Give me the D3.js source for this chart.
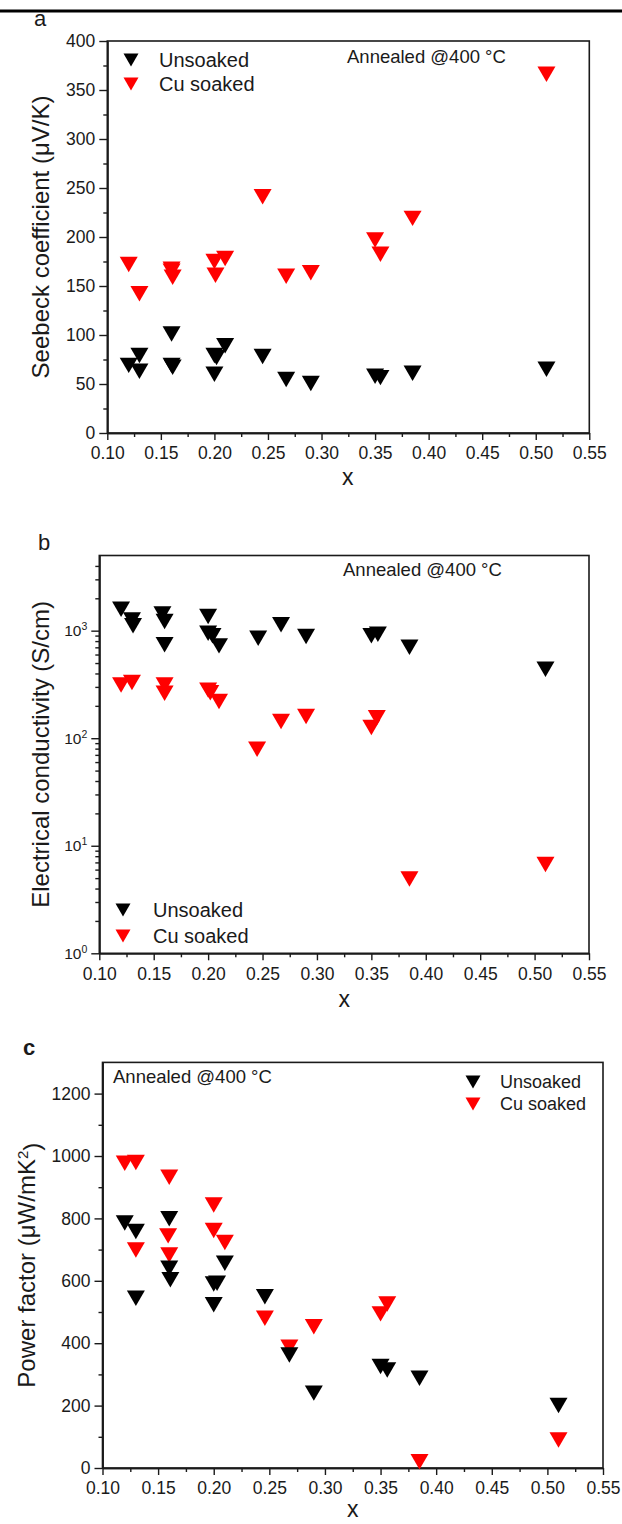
<!DOCTYPE html>
<html>
<head>
<meta charset="utf-8">
<script src="https://cdn.jsdelivr.net/npm/d3@7"></script>
<style>
  body { margin: 0; background: #fff; }
  svg { display: block; }
  text { font-family: "Liberation Sans", Arial, Helvetica, sans-serif; fill: #1a1a1a; }
</style>
</head>
<body>
<svg id="fig" width="622" height="1524"></svg>
<script>
// ---- shared axis ticks ----
const xTicks = [0.10, 0.15, 0.20, 0.25, 0.30, 0.35, 0.40, 0.45, 0.50, 0.55];
const xMinorTicks = [0.125, 0.175, 0.225, 0.275, 0.325, 0.375, 0.425, 0.475, 0.525];
const seriesNames = ["Unsoaked", "Cu soaked"];
const seriesColors = ["#000000", "#ff0000"];
const annealLabel = "Annealed @400 °C";

// ---- (a) Seebeck coefficient, μV/K ----
const seebeckTicks = [0, 50, 100, 150, 200, 250, 300, 350, 400];
const seebeckMinor = [25, 75, 125, 175, 225, 275, 325, 375];
const seebeckUnsoakedX = [0.12, 0.13, 0.13, 0.16, 0.16, 0.161, 0.20, 0.202, 0.20, 0.21, 0.245, 0.267, 0.29, 0.35, 0.355, 0.385, 0.51];
const seebeckUnsoaked  = [69, 79, 63, 101, 69, 67, 79, 77, 60, 89, 78, 54.5, 50.5, 58, 56.5, 61, 65];
const seebeckCuX = [0.12, 0.13, 0.16, 0.16, 0.161, 0.20, 0.201, 0.21, 0.245, 0.267, 0.29, 0.35, 0.355, 0.385, 0.51];
const seebeckCu  = [172, 142, 167, 165, 159, 175, 161, 178, 241, 160, 163.5, 197, 182.5, 219, 366];

// ---- (b) Electrical conductivity, S/cm (log) ----
const condTicks = [1, 10, 100, 1000];
const condMinor = [2, 3, 4, 5, 6, 7, 8, 9, 20, 30, 40, 50, 60, 70, 80, 90, 200, 300, 400, 500, 600, 700, 800, 900, 2000, 3000, 4000];
const condUnsoakedX = [0.12, 0.13, 0.131, 0.158, 0.16, 0.16, 0.20, 0.20, 0.204, 0.21, 0.246, 0.267, 0.29, 0.35, 0.356, 0.385, 0.51];
const condUnsoaked  = [1585, 1258, 1110, 1432, 1216, 738, 1352, 948, 895, 722, 851, 1133, 881, 895, 927, 702, 438];
const condCuX = [0.12, 0.13, 0.16, 0.16, 0.20, 0.202, 0.21, 0.245, 0.267, 0.29, 0.35, 0.355, 0.385, 0.51];
const condCu  = [313, 329, 313, 262, 280, 265, 219, 79, 143, 159, 126, 155, 4.9, 6.7];

// ---- (c) Power factor, μW/mK² ----
const pfTicks = [0, 200, 400, 600, 800, 1000, 1200];
const pfMinor = [100, 300, 500, 700, 900, 1100];
const pfUnsoakedX = [0.12, 0.13, 0.13, 0.16, 0.16, 0.161, 0.20, 0.203, 0.20, 0.21, 0.246, 0.268, 0.29, 0.35, 0.356, 0.385, 0.51];
const pfUnsoaked  = [785, 758, 544, 799, 640, 603, 590, 592, 523, 656, 549, 362, 240, 325, 314, 288, 200];
const pfCuX = [0.12, 0.13, 0.13, 0.16, 0.159, 0.16, 0.20, 0.20, 0.21, 0.246, 0.268, 0.29, 0.35, 0.356, 0.385, 0.51];
const pfCu  = [977, 979, 699, 932, 744, 683, 843, 761, 723, 480, 387, 453, 494, 526, 20, 90];

// Downward-pointing triangle marker (size = width squared)
const downTriangle = {
  draw(ctx, size) {
    const w = Math.sqrt(size), h = w * 0.86;
    ctx.moveTo(-w / 2, -h / 2);
    ctx.lineTo(w / 2, -h / 2);
    ctx.lineTo(0, h / 2);
    ctx.closePath();
  }
};
const markerPath = d3.symbol().type(downTriangle).size(18 * 18);

const svg = d3.select("#fig");

// rule across the top of the figure
svg.append("line")
  .attr("x1", 0).attr("x2", 622).attr("y1", 11).attr("y2", 11)
  .attr("stroke", "#000").attr("stroke-width", 3);

function drawPanel(p) {
  const g = svg.append("g");
  const x = d3.scaleLinear().domain([0.10, 0.55]).range([p.left, p.right]);
  const y = p.log
    ? d3.scaleLog().domain(p.yDomain).range([p.bottom, p.top])
    : d3.scaleLinear().domain(p.yDomain).range([p.bottom, p.top]);

  // frame
  g.append("rect")
    .attr("x", p.left).attr("y", p.top)
    .attr("width", p.right - p.left).attr("height", p.bottom - p.top)
    .attr("fill", "none").attr("stroke", "#1a1a1a").attr("stroke-width", 1.6);

  // x axis (major + minor)
  const xa = g.append("g").attr("transform", `translate(0,${p.bottom})`)
    .call(d3.axisBottom(x).tickValues(xTicks).tickFormat(d3.format(".2f"))
      .tickSize(7).tickSizeOuter(0).tickPadding(7));
  g.append("g").attr("transform", `translate(0,${p.bottom})`)
    .call(d3.axisBottom(x).tickValues(xMinorTicks).tickFormat("").tickSize(4).tickSizeOuter(0));

  // y axis (major + minor)
  const yAxis = d3.axisLeft(y).tickValues(p.yTicks).tickSize(8).tickSizeOuter(0).tickPadding(4);
  if (!p.log) yAxis.tickFormat(d3.format("d"));
  const ya = g.append("g").attr("transform", `translate(${p.left},0)`).call(yAxis);
  g.append("g").attr("transform", `translate(${p.left},0)`)
    .call(d3.axisLeft(y).tickValues(p.yMinor).tickFormat("").tickSize(4).tickSizeOuter(0));

  g.selectAll(".domain").attr("stroke", "#1a1a1a").attr("stroke-width", 1.6);
  g.selectAll(".tick line").attr("stroke", "#1a1a1a").attr("stroke-width", 1.4);
  xa.selectAll("text").attr("font-size", "17.5px").attr("fill", "#1a1a1a");
  ya.selectAll("text").attr("font-size", "17.5px").attr("fill", "#1a1a1a");

  if (p.log) {
    ya.selectAll(".tick text").each(function (d) {
      const t = d3.select(this);
      t.text(null).attr("font-size", "15.5px");
      t.append("tspan").text("10");
      t.append("tspan").attr("dy", "-0.55em").attr("font-size", "10.5px").text(Math.round(Math.log10(d)));
    });
  }

  // axis titles
  g.append("text")
    .attr("x", (p.left + p.right) / 2 + p.xTitleShift).attr("y", p.xTitleY)
    .attr("text-anchor", "middle").attr("font-size", "23px").text("x");

  const yt = g.append("text")
    .attr("transform", `translate(${p.yTitleX},${(p.top + p.bottom) / 2}) rotate(-90)`)
    .attr("text-anchor", "middle").attr("dy", "0.35em").attr("font-size", "24px");
  p.yTitle(yt);

  // panel letter
  g.append("text").attr("x", p.letterX).attr("y", p.letterY)
    .attr("font-size", "22px").attr("font-weight", p.letterBold ? "bold" : "normal").text(p.letter);

  // annotation
  g.append("text").attr("x", p.annX).attr("y", p.annY)
    .attr("font-size", "18.5px").text(annealLabel);

  // data: Cu soaked first, unsoaked on top
  const series = [
    { xs: p.cuX, ys: p.cu, color: seriesColors[1] },
    { xs: p.unX, ys: p.un, color: seriesColors[0] }
  ];
  series.forEach(s => {
    g.append("g").selectAll("path")
      .data(s.xs.map((xv, i) => [xv, s.ys[i]]))
      .join("path")
      .attr("d", markerPath)
      .attr("transform", d => `translate(${x(d[0])},${y(d[1])})`)
      .attr("fill", s.color);
  });

  // legend
  const lg = g.append("g");
  const legendMarker = d3.symbol().type(downTriangle).size(p.legendMarker * p.legendMarker);
  seriesNames.forEach((name, i) => {
    lg.append("path").attr("d", legendMarker)
      .attr("transform", `translate(${p.legX},${p.legY + i * p.legStep})`)
      .attr("fill", seriesColors[i]);
    lg.append("text").attr("x", p.legTextX).attr("y", p.legY + i * p.legStep)
      .attr("dy", "0.36em").attr("font-size", p.legFont + "px").text(name);
  });
}

drawPanel({
  letter: "a", letterX: 34, letterY: 26,
  left: 107.3, right: 589.3, top: 41, bottom: 433,
  yDomain: [0, 400], yTicks: seebeckTicks, yMinor: seebeckMinor,
  unX: seebeckUnsoakedX, un: seebeckUnsoaked, cuX: seebeckCuX, cu: seebeckCu,
  xTitleY: 485, xTitleShift: -0.5, yTitleX: 41,
  yTitle: t => t.text("Seebeck coefficient (μV/K)"),
  annX: 347, annY: 63,
  legX: 131, legY: 60, legStep: 24, legTextX: 159, legFont: 20, legendMarker: 15
});

drawPanel({
  letter: "b", letterX: 38, letterY: 550,
  left: 99.3, right: 589, top: 555.5, bottom: 953.3, log: true,
  yDomain: [1, 5000], yTicks: condTicks, yMinor: condMinor,
  unX: condUnsoakedX, un: condUnsoaked, cuX: condCuX, cu: condCu,
  xTitleY: 1007, xTitleShift: 0, yTitleX: 41,
  yTitle: t => t.text("Electrical conductivity (S/cm)"),
  annX: 343, annY: 576,
  legX: 123, legY: 910, legStep: 26, legTextX: 153, legFont: 20, legendMarker: 15
});

drawPanel({
  letter: "c", letterX: 23, letterY: 1055, letterBold: true,
  left: 102.5, right: 603, top: 1062.4, bottom: 1468,
  yDomain: [0, 1300], yTicks: pfTicks, yMinor: pfMinor,
  unX: pfUnsoakedX, un: pfUnsoaked, cuX: pfCuX, cu: pfCu,
  xTitleY: 1517, xTitleShift: 0, yTitleX: 27,
  yTitle: t => {
    t.append("tspan").text("Power factor (μW/mK");
    t.append("tspan").attr("dy", "-0.5em").attr("font-size", "15px").text("2");
    t.append("tspan").attr("dy", "0.5em").text(")");
  },
  annX: 113, annY: 1083,
  legX: 473, legY: 1082, legStep: 22, legTextX: 500, legFont: 18, legendMarker: 15
});
</script>
</body>
</html>
